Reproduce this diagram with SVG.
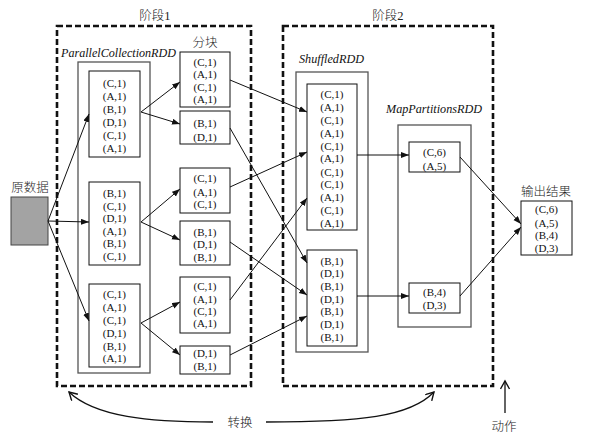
<svg xmlns="http://www.w3.org/2000/svg" width="591" height="438" viewBox="0 0 591 438">
<style>
.t{font-family:"Liberation Serif","Times New Roman",serif;font-size:11px;text-anchor:middle;fill:#111}
.lab{font-family:"Liberation Serif","Noto Sans CJK SC",serif;font-size:12.5px;font-weight:300;text-anchor:middle;fill:#222}
.it{font-family:"Liberation Serif","Times New Roman",serif;font-size:11.5px;font-style:italic;text-anchor:middle;fill:#111}
.box{fill:#fff;stroke:#111;stroke-width:1}
.outer{fill:#fff;stroke:#555;stroke-width:1.3}
.stage{fill:none;stroke:#111;stroke-width:2.6;stroke-dasharray:6 3}
.c{fill:none;stroke:#111;stroke-width:1;marker-end:url(#ah)}
.cv{fill:none;stroke:#111;stroke-width:1.3;marker-end:url(#oh)}
</style>
<defs>
<marker id="ah" markerUnits="userSpaceOnUse" markerWidth="9" markerHeight="7" refX="8" refY="3" orient="auto">
<path d="M0,0 L8,3 L0,6 z" fill="#111"/>
</marker>
<marker id="oh" markerUnits="userSpaceOnUse" markerWidth="12" markerHeight="12" refX="9" refY="5" orient="auto">
<path d="M1,0.5 L9,5 L1,9.5" fill="none" stroke="#111" stroke-width="1.4"/>
</marker>
</defs>
<rect width="591" height="438" fill="#fff"/>

<g id="stage1">
<rect class="stage" x="57" y="26" width="194" height="360"/>
<text class="lab" x="155" y="20">阶段1</text>
</g>
<g id="stage2">
<rect class="stage" x="283" y="26" width="210" height="360"/>
<text class="lab" x="388" y="20">阶段2</text>
</g>

<g id="source">
<rect x="11" y="197" width="37" height="48" fill="#a3a3a3" stroke="#444" stroke-width="1"/>
<text class="lab" x="30" y="192">原数据</text>
</g>

<g id="parallelCollectionRDD">
<text class="it" x="118.5" y="57" textLength="115" lengthAdjust="spacingAndGlyphs">ParallelCollectionRDD</text>
<rect class="outer" x="78" y="62" width="72" height="311"/>
</g>
<g id="pcr1">
<rect class="box" x="89" y="71" width="51" height="86"/>
<text class="t" x="114.5" y="87">(C,1)</text>
<text class="t" x="114.5" y="100">(A,1)</text>
<text class="t" x="114.5" y="113">(B,1)</text>
<text class="t" x="114.5" y="126">(D,1)</text>
<text class="t" x="114.5" y="139">(C,1)</text>
<text class="t" x="114.5" y="152">(A,1)</text>
</g>
<g id="pcr2">
<rect class="box" x="89" y="182" width="51" height="83"/>
<text class="t" x="114.5" y="197">(B,1)</text>
<text class="t" x="114.5" y="210">(C,1)</text>
<text class="t" x="114.5" y="222">(D,1)</text>
<text class="t" x="114.5" y="235">(A,1)</text>
<text class="t" x="114.5" y="247">(B,1)</text>
<text class="t" x="114.5" y="260">(C,1)</text>
</g>
<g id="pcr3">
<rect class="box" x="89" y="284" width="51" height="83"/>
<text class="t" x="114.5" y="298">(C,1)</text>
<text class="t" x="114.5" y="311">(A,1)</text>
<text class="t" x="114.5" y="324">(C,1)</text>
<text class="t" x="114.5" y="337">(D,1)</text>
<text class="t" x="114.5" y="350">(B,1)</text>
<text class="t" x="114.5" y="362">(A,1)</text>
</g>

<g id="partitions-label"><text class="lab" x="205" y="47">分块</text></g>
<g id="p1">
<rect class="box" x="180" y="52" width="50" height="55"/>
<text class="t" x="205" y="66">(C,1)</text>
<text class="t" x="205" y="78">(A,1)</text>
<text class="t" x="205" y="91">(C,1)</text>
<text class="t" x="205" y="103">(A,1)</text>
</g>
<g id="p2">
<rect class="box" x="180" y="111" width="50" height="33"/>
<text class="t" x="205" y="127">(B,1)</text>
<text class="t" x="205" y="141">(D,1)</text>
</g>
<g id="p3">
<rect class="box" x="180" y="168" width="50" height="45"/>
<text class="t" x="205" y="182">(C,1)</text>
<text class="t" x="205" y="196">(A,1)</text>
<text class="t" x="205" y="208">(C,1)</text>
</g>
<g id="p4">
<rect class="box" x="180" y="221" width="50" height="44"/>
<text class="t" x="205" y="236">(B,1)</text>
<text class="t" x="205" y="248">(D,1)</text>
<text class="t" x="205" y="261">(B,1)</text>
</g>
<g id="p5">
<rect class="box" x="180" y="277" width="50" height="56"/>
<text class="t" x="205" y="290">(C,1)</text>
<text class="t" x="205" y="303">(A,1)</text>
<text class="t" x="205" y="315">(C,1)</text>
<text class="t" x="205" y="327">(A,1)</text>
</g>
<g id="p6">
<rect class="box" x="180" y="346" width="50" height="28"/>
<text class="t" x="205" y="357">(D,1)</text>
<text class="t" x="205" y="370">(B,1)</text>
</g>

<g id="shuffledRDD">
<text class="it" x="331.5" y="63" textLength="65" lengthAdjust="spacingAndGlyphs">ShuffledRDD</text>
<rect class="outer" x="296" y="72" width="72" height="280"/>
</g>
<g id="s1">
<rect class="box" x="307" y="84" width="50" height="146"/>
<text class="t" x="332" y="98">(C,1)</text>
<text class="t" x="332" y="111">(A,1)</text>
<text class="t" x="332" y="124">(C,1)</text>
<text class="t" x="332" y="137">(A,1)</text>
<text class="t" x="332" y="150">(C,1)</text>
<text class="t" x="332" y="162">(A,1)</text>
<text class="t" x="332" y="176">(C,1)</text>
<text class="t" x="332" y="188">(C,1)</text>
<text class="t" x="332" y="201">(A,1)</text>
<text class="t" x="332" y="214">(C,1)</text>
<text class="t" x="332" y="227">(A,1)</text>
</g>
<g id="s2">
<rect class="box" x="307" y="250" width="50" height="96"/>
<text class="t" x="332" y="265">(B,1)</text>
<text class="t" x="332" y="277">(D,1)</text>
<text class="t" x="332" y="290">(B,1)</text>
<text class="t" x="332" y="303">(D,1)</text>
<text class="t" x="332" y="315">(B,1)</text>
<text class="t" x="332" y="328">(D,1)</text>
<text class="t" x="332" y="341">(B,1)</text>
</g>

<g id="mapPartitionsRDD">
<text class="it" x="434" y="113" textLength="96" lengthAdjust="spacingAndGlyphs">MapPartitionsRDD</text>
<rect class="outer" x="398" y="125" width="73" height="202"/>
</g>
<g id="m1">
<rect class="box" x="409" y="142" width="51" height="30"/>
<text class="t" x="434.5" y="156">(C,6)</text>
<text class="t" x="434.5" y="170">(A,5)</text>
</g>
<g id="m2">
<rect class="box" x="409" y="283" width="51" height="30"/>
<text class="t" x="434.5" y="296">(B,4)</text>
<text class="t" x="434.5" y="309">(D,3)</text>
</g>

<g id="output">
<text class="lab" x="546" y="196">输出结果</text>
<rect class="box" x="521" y="201" width="51" height="54"/>
<text class="t" x="546.5" y="213">(C,6)</text>
<text class="t" x="546.5" y="227">(A,5)</text>
<text class="t" x="546.5" y="239">(B,4)</text>
<text class="t" x="546.5" y="252">(D,3)</text>
</g>

<g id="connectors">
<line class="c" x1="48" y1="221" x2="89" y2="114"/>
<line class="c" x1="48" y1="221" x2="89" y2="222"/>
<line class="c" x1="48" y1="221" x2="89" y2="321"/>
<line class="c" x1="141" y1="112" x2="180" y2="82"/>
<line class="c" x1="141" y1="112" x2="180" y2="124"/>
<line class="c" x1="141" y1="222" x2="180" y2="189"/>
<line class="c" x1="141" y1="222" x2="180" y2="240"/>
<line class="c" x1="141" y1="323" x2="180" y2="302"/>
<line class="c" x1="141" y1="323" x2="180" y2="355"/>
<line class="c" x1="230" y1="80" x2="307" y2="112"/>
<line class="c" x1="230" y1="128" x2="307" y2="263"/>
<line class="c" x1="230" y1="187" x2="307" y2="152"/>
<line class="c" x1="230" y1="242" x2="307" y2="295"/>
<line class="c" x1="230" y1="300" x2="307" y2="198"/>
<line class="c" x1="230" y1="355" x2="307" y2="316"/>
<line class="c" x1="357" y1="155" x2="409" y2="155"/>
<line class="c" x1="357" y1="296" x2="409" y2="296"/>
<line class="c" x1="460" y1="157" x2="521" y2="224"/>
<line class="c" x1="460" y1="296" x2="521" y2="227"/>
<path class="cv" d="M213,422 C150,422 95,417 69,392"/>
<path class="cv" d="M266,422 C360,422 410,417 434,392"/>
<line class="cv" x1="505" y1="413" x2="505" y2="381"/>
</g>

<g id="labels">
<text class="lab" x="240" y="427">转换</text>
<text class="lab" x="504" y="431">动作</text>
</g>
</svg>
